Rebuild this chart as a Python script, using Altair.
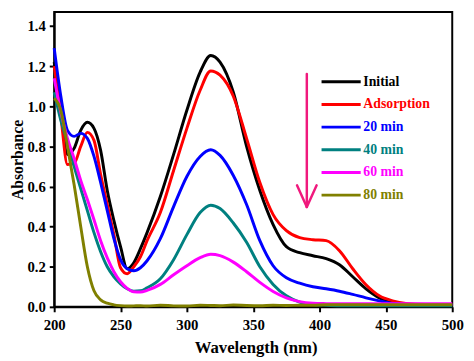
import altair as alt
import pandas as pd

# ---- data ----
wavelength = [200, 205, 210, 215, 220, 225, 230, 235, 240, 245, 250, 255, 260, 265, 270,
              280, 290, 300, 310, 318, 325, 335, 345, 355, 365, 375, 385, 395, 405, 415,
              425, 435, 445, 455, 465, 480, 500]

initial = [1.22, 0.98, 0.76, 0.79, 0.88, 0.92, 0.89, 0.78, 0.58, 0.43, 0.30, 0.19, 0.22, 0.29, 0.37,
           0.55, 0.76, 0.98, 1.17, 1.253, 1.22, 1.07, 0.80, 0.58, 0.41, 0.30, 0.27, 0.255, 0.24, 0.21,
           0.15, 0.09, 0.045, 0.022, 0.012, 0.01, 0.01]
adsorption = [1.20, 0.95, 0.71, 0.715, 0.80, 0.87, 0.83, 0.66, 0.51, 0.36, 0.195, 0.165, 0.20, 0.25, 0.33,
              0.47, 0.68, 0.89, 1.08, 1.176, 1.155, 1.05, 0.84, 0.62, 0.46, 0.38, 0.345, 0.335, 0.33, 0.28,
              0.19, 0.11, 0.055, 0.03, 0.017, 0.012, 0.012]
min20 = [1.29, 1.05, 0.88, 0.85, 0.865, 0.84, 0.75, 0.62, 0.48, 0.34, 0.235, 0.19, 0.18, 0.195, 0.23,
         0.34, 0.50, 0.65, 0.75, 0.783, 0.755, 0.655, 0.51, 0.33, 0.205, 0.145, 0.118, 0.10, 0.09, 0.078,
         0.062, 0.045, 0.03, 0.017, 0.012, 0.01, 0.01]
min40 = [1.07, 0.93, 0.82, 0.70, 0.59, 0.48, 0.37, 0.275, 0.20, 0.15, 0.115, 0.09, 0.078, 0.08, 0.095,
         0.14, 0.235, 0.36, 0.47, 0.507, 0.49, 0.418, 0.322, 0.20, 0.112, 0.055, 0.024, 0.012, 0.008, 0.006,
         0.006, 0.006, 0.006, 0.006, 0.006, 0.006, 0.006]
min60 = [1.14, 0.97, 0.84, 0.74, 0.63, 0.535, 0.434, 0.33, 0.244, 0.175, 0.125, 0.092, 0.075, 0.074, 0.082,
         0.112, 0.16, 0.205, 0.245, 0.262, 0.255, 0.223, 0.175, 0.122, 0.077, 0.045, 0.026, 0.018, 0.016, 0.015,
         0.015, 0.015, 0.015, 0.015, 0.015, 0.015, 0.015]
min80 = [1.04, 0.98, 0.80, 0.61, 0.40, 0.20, 0.08, 0.035, 0.018, 0.01, 0.006, 0.004, 0.005, 0.006, 0.004,
         0.008, 0.005, 0.004, 0.008, 0.007, 0.006, 0.009, 0.007, 0.006, 0.008, 0.007, 0.008, 0.008, 0.01, 0.01,
         0.01, 0.01, 0.01, 0.01, 0.01, 0.01, 0.01]

series_names = ["Initial", "Adsorption", "20 min", "40 min", "60 min", "80 min"]
series_values = [initial, adsorption, min20, min40, min60, min80]
series_colors = ["#000000", "#ff0000", "#0000ff", "#008080", "#ff00ff", "#808000"]

# legend (drawn inside the plot, in data units)
legend_y = [1.122, 1.009, 0.896, 0.783, 0.670, 0.557]
legend_x0 = 401.5
legend_x1 = 431.0
legend_text_x = 433.0

# pink arrow (data units)
arrow_x = [390.4, 383.0, 397.8]
arrow_y = [1.161, 0.606, 0.606]
arrow_x2 = [390.4, 390.4, 390.4]
arrow_y2 = [0.498, 0.498, 0.498]
arrow_color = "#f0197d"

# ---- build tables ----
rows = []
for name, vals in zip(series_names, series_values):
    for w, a in zip(wavelength, vals):
        rows.append({"wl": w, "abs": a, "series": name})
df = pd.DataFrame(rows)

leg = pd.DataFrame({
    "series": series_names,
    "y": legend_y,
    "x0": [legend_x0] * len(series_names),
    "x1": [legend_x1] * len(series_names),
    "xt": [legend_text_x] * len(series_names),
})
arrow = pd.DataFrame({"x": arrow_x, "y": arrow_y, "x2": arrow_x2, "y2": arrow_y2})

FONT = "Liberation Serif, Times New Roman, Times, serif"

xscale = alt.Scale(domain=[200, 500], nice=False, zero=False)
yscale = alt.Scale(domain=[0, 1.47], nice=False, zero=False)
cscale = alt.Scale(domain=series_names, range=series_colors)

xaxis = alt.Axis(
    title="Wavelength (nm)",
    values=list(range(200, 501, 25)),
    labelExpr="datum.value % 50 == 0 ? datum.label : ''",
    labelFont=FONT, labelFontWeight="bold", labelFontSize=15, labelColor="black",
    labelPadding=6, labelFlush=False,
    titleFont=FONT, titleFontWeight="bold", titleFontSize=17, titleColor="black",
    titleX=205, titleY=41, titleBaseline="middle",
    tickSize=5, tickWidth=2, tickColor="black",
    domainColor="black", domainWidth=2, grid=False,
)
yaxis = alt.Axis(
    title="Absorbance",
    values=[0, 0.2, 0.4, 0.6, 0.8, 1.0, 1.2, 1.4],
    format=".1f",
    labelFont=FONT, labelFontWeight="bold", labelFontSize=15, labelColor="black",
    labelPadding=4, labelFlush=False,
    titleFont=FONT, titleFontWeight="bold", titleFontSize=16, titleColor="black",
    titleX=-37, titleY=150, titleAlign="center", titleBaseline="middle",
    tickSize=5, tickWidth=2, tickColor="black",
    domainColor="black", domainWidth=2, grid=False,
)

lines = alt.Chart(df).mark_line(strokeWidth=3, interpolate="monotone").encode(
    x=alt.X("wl:Q", scale=xscale, axis=xaxis),
    y=alt.Y("abs:Q", scale=yscale, axis=yaxis),
    color=alt.Color("series:N", scale=cscale, legend=None),
    detail="series:N",
)

leg_lines = alt.Chart(leg).mark_rule(strokeWidth=3).encode(
    x=alt.X("x0:Q", scale=xscale),
    x2="x1:Q",
    y=alt.Y("y:Q", scale=yscale),
    color=alt.Color("series:N", scale=cscale, legend=None),
)
leg_text = alt.Chart(leg).mark_text(
    align="left", baseline="middle", font=FONT, fontWeight="bold", fontSize=14
).encode(
    x=alt.X("xt:Q", scale=xscale),
    y=alt.Y("y:Q", scale=yscale),
    text="series:N",
    color=alt.Color("series:N", scale=cscale, legend=None),
)
arrow_marks = alt.Chart(arrow).mark_rule(strokeWidth=2.5, color=arrow_color, strokeCap="round").encode(
    x=alt.X("x:Q", scale=xscale),
    y=alt.Y("y:Q", scale=yscale),
    x2="x2:Q",
    y2="y2:Q",
)

chart = alt.layer(lines, leg_lines, leg_text, arrow_marks).properties(
    width=405,
    height=300,
    autosize=alt.AutoSizeParams(type="none"),
    padding={"left": 47, "top": 1, "right": 14, "bottom": 51},
    background="white",
).configure_view(stroke="black", strokeWidth=2)

chart.save("out.html", embed_options={"renderer": "svg", "actions": False})
